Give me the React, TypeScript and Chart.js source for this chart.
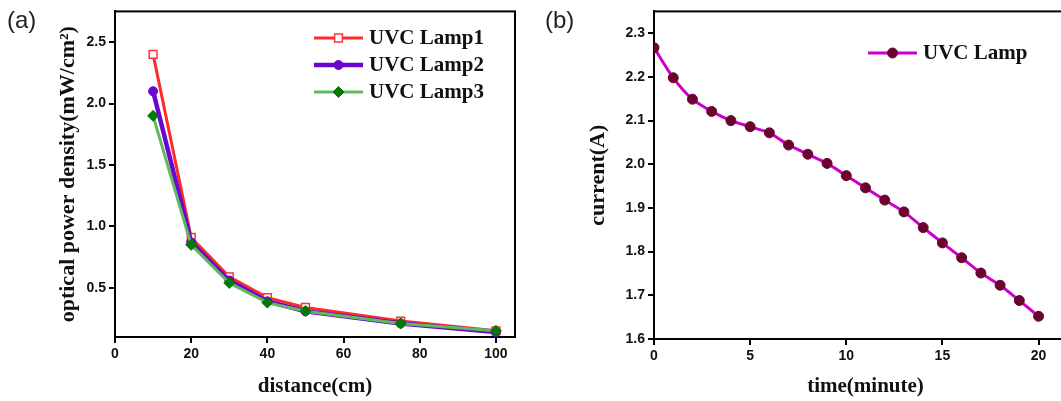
import React, { useEffect, useRef } from 'react';
import { Chart, registerables } from 'chart.js';

Chart.register(...registerables);

// ---- Panel (a) data ----
const distances = [10, 20, 30, 40, 50, 75, 100];
const lamp1 = [2.4, 0.91, 0.59, 0.42, 0.34, 0.23, 0.15];
const lamp2 = [2.1, 0.87, 0.56, 0.39, 0.31, 0.21, 0.14];
const lamp3 = [1.9, 0.85, 0.54, 0.38, 0.31, 0.21, 0.15];
const lampLabels = ['UVC Lamp1', 'UVC Lamp2', 'UVC Lamp3'];
const distanceTicks = [0, 20, 40, 60, 80, 100];
const densityTicks = [0.5, 1.0, 1.5, 2.0, 2.5];

// ---- Panel (b) data ----
const minutes = [0, 1, 2, 3, 4, 5, 6, 7, 8, 9, 10, 11, 12, 13, 14, 15, 16, 17, 18, 19, 20];
const current = [2.267, 2.198, 2.149, 2.121, 2.1, 2.086, 2.072, 2.044, 2.023, 2.002, 1.974, 1.946, 1.918, 1.891, 1.855, 1.82, 1.786, 1.751, 1.723, 1.688, 1.652];
const currentLabel = 'UVC Lamp';
const timeTicks = [0, 5, 10, 15, 20];
const currentTicks = [1.6, 1.7, 1.8, 1.9, 2.0, 2.1, 2.2, 2.3];

const TICK_FONT = { family: "'Liberation Sans', Arial, sans-serif", size: 14, weight: 'bold' as const };
const TITLE_FONT_X = { family: "'Liberation Serif', 'Times New Roman', serif", size: 21, weight: 'bold' as const };
const TITLE_FONT_Y = { family: "'Liberation Serif', 'Times New Roman', serif", size: 22, weight: 'bold' as const };
const LEGEND_FONT = "bold 21px 'Liberation Serif', 'Times New Roman', serif";

function drawMarker(ctx: CanvasRenderingContext2D, style: string, x: number, y: number, r: number, fill: string, stroke: string, bw: number) {
  ctx.beginPath();
  if (style === 'rect') {
    const s = Math.SQRT1_2 * r;
    ctx.rect(x - s, y - s, 2 * s, 2 * s);
  } else if (style === 'rectRot') {
    ctx.moveTo(x - r, y);
    ctx.lineTo(x, y - r);
    ctx.lineTo(x + r, y);
    ctx.lineTo(x, y + r);
    ctx.closePath();
  } else {
    ctx.arc(x, y, r, 0, Math.PI * 2);
  }
  ctx.fillStyle = fill;
  ctx.fill();
  ctx.lineWidth = bw;
  ctx.strokeStyle = stroke;
  ctx.stroke();
}

const insideLegend = {
  id: 'insideLegend',
  afterDatasetsDraw(chart: any, _args: any, opts: any) {
    const ctx = chart.ctx as CanvasRenderingContext2D;
    chart.data.datasets.forEach((ds: any, i: number) => {
      const y = opts.y0 + i * opts.dy;
      ctx.save();
      ctx.strokeStyle = ds.borderColor;
      ctx.lineWidth = ds.borderWidth;
      ctx.beginPath();
      ctx.moveTo(opts.x1, y);
      ctx.lineTo(opts.x2, y);
      ctx.stroke();
      drawMarker(ctx, ds.pointStyle, (opts.x1 + opts.x2) / 2, y, ds.pointRadius, ds.pointBackgroundColor, ds.pointBorderColor, ds.pointBorderWidth);
      ctx.fillStyle = '#111';
      ctx.font = LEGEND_FONT;
      ctx.textAlign = 'left';
      ctx.textBaseline = 'middle';
      ctx.fillText(ds.label, opts.textX, y + 1);
      ctx.restore();
    });
  },
};

const frame = {
  id: 'frame',
  beforeDatasetsDraw(chart: any) {
    const { left, top, right, bottom } = chart.chartArea;
    const ctx = chart.ctx as CanvasRenderingContext2D;
    ctx.save();
    ctx.strokeStyle = '#000';
    ctx.lineWidth = 2;
    ctx.strokeRect(left, top, right - left, bottom - top);
    ctx.restore();
  },
};

function axisCommon(ticksArr: number[], fmt: (v: number) => string, title: string, isY: boolean, size: number, min: number, max: number, titlePad: any) {
  return {
    type: 'linear' as const,
    min,
    max,
    afterBuildTicks: (s: any) => {
      s.ticks = ticksArr.map((v) => ({ value: v }));
    },
    afterFit: (s: any) => {
      if (isY) s.width = size;
      else s.height = size;
    },
    grid: { display: true, drawOnChartArea: false, drawTicks: true, tickLength: 6, color: '#000', lineWidth: 2 },
    border: { display: true, color: '#000', width: 2 },
    ticks: { color: '#111', font: TICK_FONT, padding: 3, autoSkip: false, maxRotation: 0, callback: (v: any) => fmt(Number(v)) },
    title: { display: true, text: title, color: '#111', font: isY ? TITLE_FONT_Y : TITLE_FONT_X, padding: titlePad },
  };
}

function PanelA() {
  const ref = useRef<HTMLCanvasElement>(null);
  useEffect(() => {
    const series = [lamp1, lamp2, lamp3];
    const styles = [
      { borderColor: '#ff2a2a', borderWidth: 3, pointStyle: 'rect', pointRadius: 5.5, pointBackgroundColor: '#ffffff', pointBorderColor: '#ff3333', pointBorderWidth: 1.5, order: 3 },
      { borderColor: '#6a06cf', borderWidth: 4.5, pointStyle: 'circle', pointRadius: 4.5, pointBackgroundColor: '#6a06cf', pointBorderColor: '#6a06cf', pointBorderWidth: 1, order: 2 },
      { borderColor: '#5fb95f', borderWidth: 3, pointStyle: 'rectRot', pointRadius: 5.5, pointBackgroundColor: '#007a00', pointBorderColor: '#007a00', pointBorderWidth: 1, order: 1 },
    ];
    const chart = new Chart(ref.current!, {
      type: 'line',
      data: {
        datasets: series.map((vals, i) => ({
          label: lampLabels[i],
          data: distances.map((d, j) => ({ x: d, y: vals[j] })),
          tension: 0,
          ...styles[i],
        })) as any,
      },
      options: {
        responsive: false,
        animation: false,
        layout: { padding: { left: 0, top: 10, right: 15, bottom: 0 } },
        plugins: {
          legend: { display: false },
          tooltip: { enabled: false },
          insideLegend: { x1: 314, x2: 363, textX: 369, y0: 38, dy: 27 },
        } as any,
        scales: {
          x: axisCommon(distanceTicks, (v) => String(v), 'distance(cm)', false, 64, 0, 105, { top: 0, bottom: 2 }) as any,
          y: axisCommon(densityTicks, (v) => v.toFixed(1), 'optical power density(mW/cm²)', true, 115, 0.1, 2.75, { top: 55, bottom: 0 }) as any,
        },
      },
      plugins: [frame, insideLegend],
    });
    return () => chart.destroy();
  }, []);
  return <canvas ref={ref} width={530} height={401} style={{ position: 'absolute', left: 0, top: 0, width: 530, height: 401 }} />;
}

function PanelB() {
  const ref = useRef<HTMLCanvasElement>(null);
  useEffect(() => {
    const chart = new Chart(ref.current!, {
      type: 'line',
      data: {
        datasets: [
          {
            label: currentLabel,
            data: minutes.map((m, j) => ({ x: m, y: current[j] })),
            borderColor: '#cc00cc',
            borderWidth: 3,
            pointStyle: 'circle',
            pointRadius: 5,
            pointBackgroundColor: '#6b0530',
            pointBorderColor: '#6b0530',
            pointBorderWidth: 1,
            tension: 0.25,
          },
        ] as any,
      },
      options: {
        responsive: false,
        animation: false,
        layout: { padding: { left: 0, top: 10, right: 13, bottom: 0 } },
        plugins: {
          legend: { display: false },
          tooltip: { enabled: false },
          insideLegend: { x1: 338, x2: 387, textX: 393, y0: 53, dy: 27 },
        } as any,
        scales: {
          x: axisCommon(timeTicks, (v) => String(v), 'time(minute)', false, 62, 0, 22, { top: 0, bottom: 2 }) as any,
          y: axisCommon(currentTicks, (v) => v.toFixed(1), 'current(A)', true, 124, 1.6, 2.35, { top: 55, bottom: 0 }) as any,
        },
      },
      plugins: [frame, insideLegend],
    });
    return () => chart.destroy();
  }, []);
  return <canvas ref={ref} width={560} height={401} style={{ position: 'absolute', left: 530, top: 0, width: 560, height: 401 }} />;
}

const panelLabel: React.CSSProperties = {
  position: 'absolute',
  top: 8,
  fontFamily: "'Liberation Sans', Arial, sans-serif",
  fontSize: 24,
  lineHeight: '24px',
  color: '#222',
};

export default function App() {
  return (
    <div style={{ position: 'absolute', left: 0, top: 0, width: 1061, height: 401, overflow: 'hidden', background: '#fff' }}>
      <PanelA />
      <PanelB />
      <div style={{ ...panelLabel, left: 7 }}>(a)</div>
      <div style={{ ...panelLabel, left: 545 }}>(b)</div>
    </div>
  );
}
